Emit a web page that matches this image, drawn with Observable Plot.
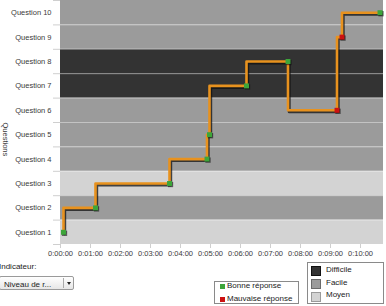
<!DOCTYPE html>
<html>
<head>
<meta charset="utf-8">
<script src="https://cdn.jsdelivr.net/npm/d3@7"></script>
<script src="https://cdn.jsdelivr.net/npm/@observablehq/plot@0.6"></script>
<style>
  html, body { margin: 0; padding: 0; background: #fff; width: 386px; height: 306px; overflow: hidden; }
  body { position: relative; font-family: "Liberation Sans", Arial, sans-serif; color: #222; }
  #chart { position: absolute; left: 0; top: 0; }
  .lbl { position: absolute; font-size: 8px; white-space: nowrap; line-height: 1; }
  #select { position: absolute; left: -1px; top: 276px; width: 75px; height: 14px; box-sizing: border-box;
    border: 1px solid #9a9a9a; border-radius: 2px; background: linear-gradient(#ffffff, #e6e6e6); }
  #select .txt { position: absolute; left: 4px; top: 3px; font-size: 8px; }
  #select .sep { position: absolute; left: 63px; top: 1px; width: 1px; height: 10px; background: #aaa; }
  #select .arr { position: absolute; left: 67px; top: 5px; width: 0; height: 0;
    border-left: 2.5px solid transparent; border-right: 2.5px solid transparent; border-top: 3px solid #222; }
  .box { position: absolute; border: 1px solid #8a8a8a; background: #fff; box-sizing: border-box; }
  .sw { position: absolute; box-sizing: border-box; }
</style>
</head>
<body>
<div id="chart"></div>
<div class="lbl" style="left:-1px; top:263px;">Indicateur:</div>
<div id="select"><span class="txt">Niveau de r...</span><span class="sep"></span><span class="arr"></span></div>
<div class="box" id="leg1" style="left:214px; top:281px; width:85px; height:23px;"></div>
<div class="box" id="leg2" style="left:307px; top:262px; width:77px; height:42px;"></div>
<script>
// ---- data ----
const questions = ["Question 1","Question 2","Question 3","Question 4","Question 5",
                   "Question 6","Question 7","Question 8","Question 9","Question 10"];
const difficulty = ["Moyen","Facile","Moyen","Facile","Facile","Facile","Difficile","Difficile","Facile","Facile"];
const difficultyLevels = ["Difficile","Facile","Moyen"];
const difficultyColors = ["#333333","#9b9b9b","#d3d3d3"];
// answer sequence (time in seconds, question number answered, correct?)
const answerTimes = [6, 70, 218, 293, 298, 372, 455, 553, 563, 639];
const answerQuestion = [1, 2, 3, 4, 5, 7, 8, 6, 9, 10];
const answerCorrect = [true, true, true, true, true, true, true, false, false, true];
const resultLabels = ["Bonne réponse", "Mauvaise réponse"];
const resultColors = ["#3da53a", "#cc1111"];
const xTicks = [0, 60, 120, 180, 240, 300, 360, 420, 480, 540, 600];
const xMax = 646;

// ---- derived tables ----
const bands = questions.map((q, i) => ({q: i + 1, diff: difficulty[i]}));
const qIndex = d3.range(1, questions.length + 1);
const boundaries = d3.range(questions.length + 1).map(i => i + 0.5);
const answers = answerTimes.map((t, i) => ({t, q: answerQuestion[i], ok: answerCorrect[i]}));
const fmt = s => `${Math.floor(s / 3600)}:${String(Math.floor(s / 60) % 60).padStart(2, "0")}:${String(s % 60).padStart(2, "0")}`;
const colorOf = d => difficultyColors[difficultyLevels.indexOf(d)];
const txt = "#3a3a3a";

const plot = Plot.plot({
  width: 386,
  height: 262,
  marginLeft: 60,
  marginRight: 3,
  marginTop: 0,
  marginBottom: 18,
  style: {fontFamily: "'Liberation Sans', Arial, sans-serif", fontSize: "7.5px", color: "#333", background: "transparent"},
  x: {domain: [0, xMax]},
  y: {domain: [0.5, questions.length + 0.5]},
  marks: [
    Plot.rect(bands, {y1: d => d.q - 0.5, y2: d => d.q + 0.5, fill: d => colorOf(d.diff)}),
    Plot.ruleY(boundaries.slice(1, -1), {stroke: "white", strokeOpacity: 0.4, strokeWidth: 1}),
    Plot.line(answers, {x: "t", y: "q", curve: "step-before", stroke: "#111", strokeOpacity: 0.75, strokeWidth: 3, dx: 1.2, dy: 1.5}),
    Plot.line(answers, {x: "t", y: "q", curve: "step-before", stroke: "#e8921e", strokeWidth: 2.6}),
    Plot.dot(answers, {x: "t", y: "q", symbol: "square", r: 3, fill: "#111", fillOpacity: 0.6, dx: 1, dy: 1}),
    Plot.dot(answers, {x: "t", y: "q", symbol: "square", r: 2.8, fill: d => d.ok ? resultColors[0] : resultColors[1]}),
    // axes: tick marks only
    Plot.axisY(boundaries, {tickSize: 7, tickFormat: () => "", stroke: "#cfcfcf", label: null}),
    Plot.axisX(xTicks, {tickSize: 4, tickFormat: () => "", stroke: "#cfcfcf", label: null}),
    // tick labels
    Plot.text(qIndex, {y: d => d, text: d => questions[d - 1], frameAnchor: "left", textAnchor: "end", dx: -9, fill: txt, fontSize: 7.5}),
    Plot.text(xTicks, {x: d => d, text: fmt, frameAnchor: "bottom", dy: 11, fill: txt, fontSize: 7.5}),
    Plot.text(["Questions"], {frameAnchor: "left", dx: -55, rotate: 90, fontSize: 7.5, fill: txt})
  ]
});
document.getElementById("chart").appendChild(plot);

// ---- HTML legends ----
const leg1 = document.getElementById("leg1");
resultLabels.forEach((lab, i) => {
  const sw = document.createElement("div");
  sw.className = "sw";
  Object.assign(sw.style, {left: "5px", top: (2 + i * 13) + "px", width: "5px", height: "5px", background: resultColors[i]});
  leg1.appendChild(sw);
  const t = document.createElement("div");
  t.className = "lbl";
  Object.assign(t.style, {left: "12px", top: (0 + i * 12.5) + "px"});
  t.textContent = lab;
  leg1.appendChild(t);
});
const leg2 = document.getElementById("leg2");
const borders = ["#111", "#6a6a6a", "#9a9a9a"];
difficultyLevels.forEach((lab, i) => {
  const sw = document.createElement("div");
  sw.className = "sw";
  Object.assign(sw.style, {left: "3px", top: (3 + i * 13) + "px", width: "10px", height: "10px", background: difficultyColors[i], border: "1px solid " + borders[i]});
  leg2.appendChild(sw);
  const t = document.createElement("div");
  t.className = "lbl";
  Object.assign(t.style, {left: "18px", top: (3 + i * 12.7) + "px"});
  t.textContent = lab;
  leg2.appendChild(t);
});
</script>
</body>
</html>
